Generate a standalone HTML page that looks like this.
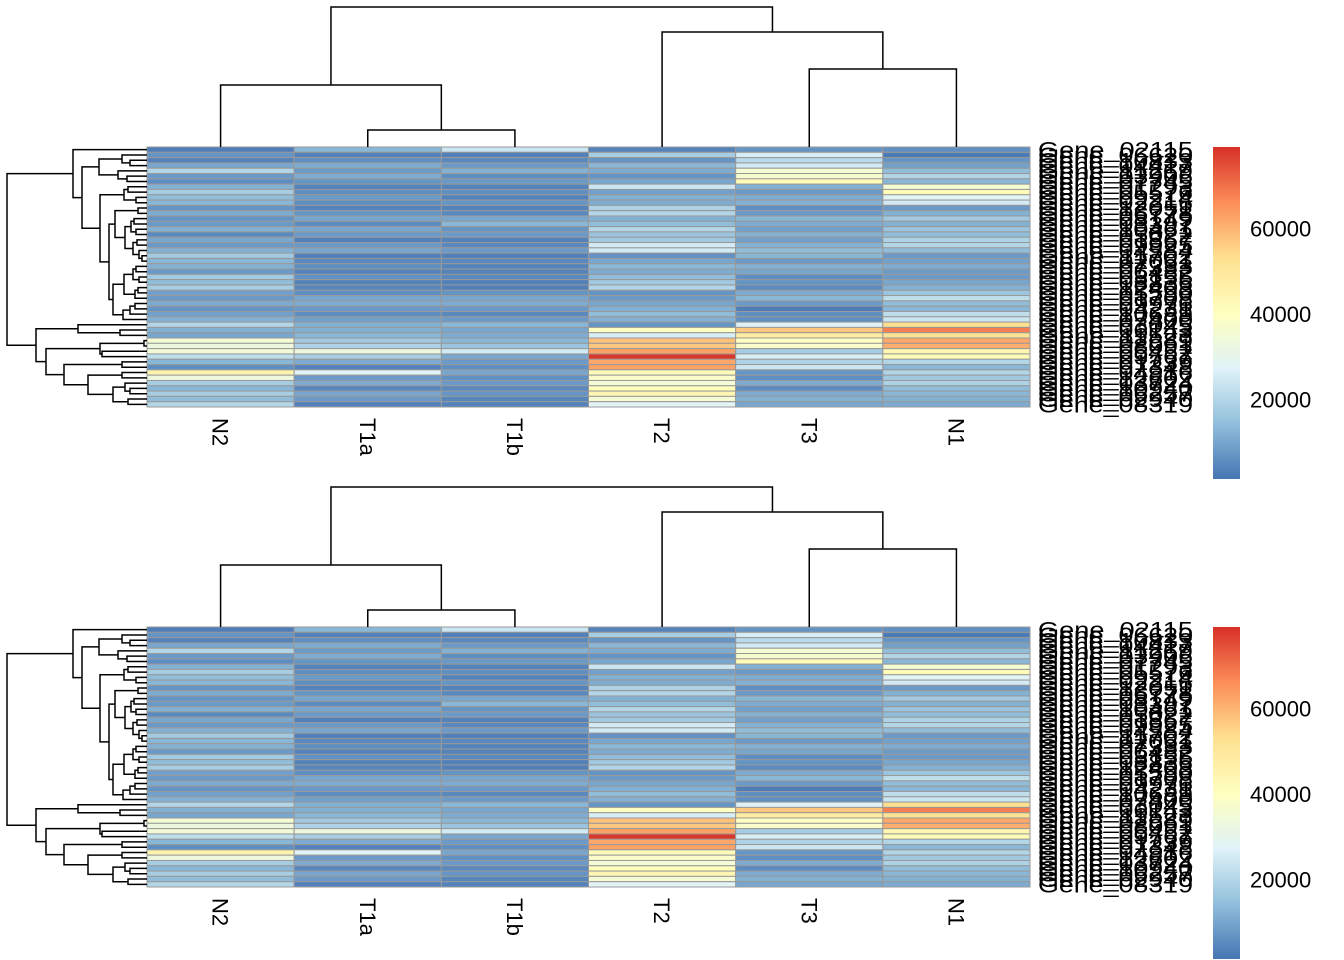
<!DOCTYPE html>
<html><head><meta charset="utf-8"><style>
html,body{margin:0;padding:0;background:#fff;}
svg{display:block;font-family:"Liberation Sans",Arial,sans-serif;}
</style></head><body>
<svg id="chart" width="1344" height="960" viewBox="0 0 1344 960"></svg>
<script>
const samples = ["N2","T1a","T1b","T2","T3","N1"];
const geneNames = ["Gene_02115","Gene_06620","Gene_10833","Gene_04417","Gene_11269","Gene_03906","Gene_07745","Gene_01293","Gene_05576","Gene_09214","Gene_02216","Gene_12051","Gene_06778","Gene_08149","Gene_03397","Gene_10461","Gene_05022","Gene_01867","Gene_09925","Gene_04584","Gene_11702","Gene_02061","Gene_07333","Gene_06482","Gene_03155","Gene_08836","Gene_12403","Gene_05590","Gene_01708","Gene_09976","Gene_04231","Gene_10689","Gene_07400","Gene_03045","Gene_06143","Gene_11523","Gene_02689","Gene_08091","Gene_05452","Gene_09767","Gene_01239","Gene_07348","Gene_04916","Gene_12602","Gene_03724","Gene_10940","Gene_06257","Gene_02940","Gene_08319"];
const colN2 = [3000,7000,4000,10000,20000,8000,6000,12000,18000,14000,13000,7000,11000,7000,8000,12000,5000,10000,8000,12000,17000,13000,12000,8000,17000,14000,18000,9000,8000,11000,7000,9000,12000,20000,12000,10000,36000,33000,35000,22000,13000,6000,45000,33000,18000,13000,18000,14000,20000];
const colT1a = [13000,3500,6000,11000,8000,11000,7000,4000,6000,8000,6000,4000,7000,10000,5500,10000,8000,3500,8000,10000,3500,5000,6000,4000,6500,4000,4500,6000,10000,11000,8000,6000,9000,12000,12000,13000,17000,19000,33000,18000,11000,4000,27000,8000,11000,4500,10000,8000,4000];
const colT1b = [24000,3500,5000,8000,12000,6000,8000,4000,6000,4000,7000,4000,5000,10000,13000,7000,8000,4000,5000,8000,3500,5000,4000,4000,5000,3500,3500,7000,10000,11000,8000,5000,8000,13000,10000,11000,13000,16000,25000,10000,8000,6000,10000,6500,8000,5000,7000,4500,4000];
const colT2 = [4000,18000,7000,13000,11000,7000,10000,24000,9000,12000,11000,19000,20000,12000,14000,20000,16000,17000,25000,25000,6500,10000,13000,11000,14000,17000,20000,7000,8000,10000,12000,14000,12000,7000,40000,26000,58000,57000,63000,78000,62000,63000,42000,38000,35000,41000,44000,36000,28000];
const colT3 = [7000,26000,21000,25000,36000,37000,42000,12000,8000,11000,12000,6000,8000,13000,11000,9000,12000,9000,12000,14000,13000,8000,12000,10000,6000,7000,5500,11000,13000,8000,3000,6000,6000,27000,57000,48000,40000,38000,18000,26000,19000,24000,7000,6000,11000,5500,11000,12000,10000];
const colN1 = [6000,2500,7000,9000,14000,20000,13000,36000,42000,28000,25000,8000,12000,17000,12000,16000,14000,19000,20000,14000,8000,9000,11000,8000,8000,10000,12000,16000,22000,14000,13000,22000,24000,53000,68000,52000,62000,61000,44000,42000,20000,13000,20000,17000,19000,14000,13000,12000,11000];
const columns = [colN2,colT1a,colT1b,colT2,colT3,colN1];
const legendTicks = [20000,40000,60000];
const vMin = 1500, vMax = 79000;
const palette = ["#4575B4","#91BFDB","#E0F3F8","#FFFFBF","#FEE090","#FC8D59","#D73027"];
// column dendrogram merges: [leftCenterIdx-or-node, ...] as heights
const colTree = [7,[85,0,[130,1,2]],[32,3,[69,4,5]]];
const rowTree = [7,[73,0,[82,[99,[122,1,[130,2,3]],[118,4,[127,5,6]]],[100,[124,[128,7,8],[136,9,10]],[109,[115,[138,11,12],[125,[131,[134,13,14],[136,15,16]],[133,[137,17,18],[139,19,[142,20,21]]]]],[113,[124,[133,[136,22,23],[139,24,25]],[135,[138,26,27],28]],[123,[130,[135,29,30],31],32]]]]]],[36,[78,33,[120,34,35]],[46,[100,[144,36,37],[102,38,39]],[64,[122,40,41],[88,[122,42,43],[113,[125,44,[130,45,46]],[128,47,48]]]]]]];

const NS="http://www.w3.org/2000/svg";
const svg=document.getElementById('chart');
function mk(t,a,p){const e=document.createElementNS(NS,t);for(const k in a)e.setAttribute(k,a[k]);(p||svg).appendChild(e);return e;}
function hex(h){return [1,3,5].map(i=>parseInt(h.substr(i,2),16));}
function colorOf(v){let t=(v-vMin)/(vMax-vMin);t=Math.max(0,Math.min(1,t))*(palette.length-1);const i=Math.min(palette.length-2,Math.floor(t));const f=t-i;const a=hex(palette[i]),b=hex(palette[i+1]);return 'rgb('+a.map((c,k)=>Math.round(c+(b[k]-c)*f)).join(',')+')';}

const hmX0=147,hmX1=1030,nR=geneNames.length,nC=samples.length;
const cw=(hmX1-hmX0)/nC;
function xCol(j){return hmX0+cw*(j+0.5);}

const defs=mk('defs',{});
const grad=mk('linearGradient',{id:'lg',x1:0,y1:1,x2:0,y2:0},defs);
palette.forEach((c,i)=>mk('stop',{offset:(i/(palette.length-1)),'stop-color':c},grad));

function panel(oy,pi){
  const g=mk('g',{});
  
  
  const y0=147+oy,y1=407+oy,rh=(y1-y0)/nR;
  const yRow=i=>y0+rh*(i+0.5);
  for(let j=0;j<nC;j++)for(let i=0;i<nR;i++){
    const r=mk('rect',{x:hmX0+cw*j,y:y0+rh*i,width:cw,height:rh,fill:colorOf(columns[j][i]),stroke:'#999','stroke-width':1},g);
    
    
  }
  // column dendrogram
  const cg=mk('g',{fill:'none',stroke:'#000','stroke-width':1.5},g);
  
  
  function dc(n){if(typeof n==='number')return {p:xCol(n),h:y0};
    const a=dc(n[1]),b=dc(n[2]),h=n[0]+oy;
    mk('path',{d:`M${a.p},${a.h}V${h}H${b.p}V${b.h}`},cg);return {p:(a.p+b.p)/2,h:h};}
  dc(colTree);
  // row dendrogram
  const rg=mk('g',{fill:'none',stroke:'#000','stroke-width':1.5},g);
  
  
  function dr(n){if(typeof n==='number')return {p:yRow(n),h:hmX0};
    const a=dr(n[1]),b=dr(n[2]),h=n[0];
    mk('path',{d:`M${a.h},${a.p}H${h}V${b.p}H${b.h}`},rg);return {p:(a.p+b.p)/2,h:h};}
  dr(rowTree);
  // column labels
  samples.forEach((s,j)=>{
    const t=mk('text',{x:0,y:0,transform:`translate(${xCol(j)-8},${418+oy}) rotate(90)`,'font-size':22,fill:'#000'},g);
    t.textContent=s;
    
    
  });
  // row labels
  geneNames.forEach((s,i)=>{
    const t=mk('text',{x:1038,y:yRow(i)+8,'font-size':22,fill:'#000',textLength:155,lengthAdjust:'spacingAndGlyphs'},g);
    t.textContent=s;
    
    
  });
  // legend
  const lr=mk('rect',{x:1213,y:147+oy,width:27,height:332,fill:'url(#lg)'},g);
  
  
  legendTicks.forEach(v=>{
    const y=479+oy-(v-vMin)/(vMax-vMin)*332;
    const t=mk('text',{x:1250,y:y+8,'font-size':22,fill:'#000'},g);
    t.textContent=v;
    
    
  });
}
panel(0,1);
panel(480,2);
</script>
</body></html>
